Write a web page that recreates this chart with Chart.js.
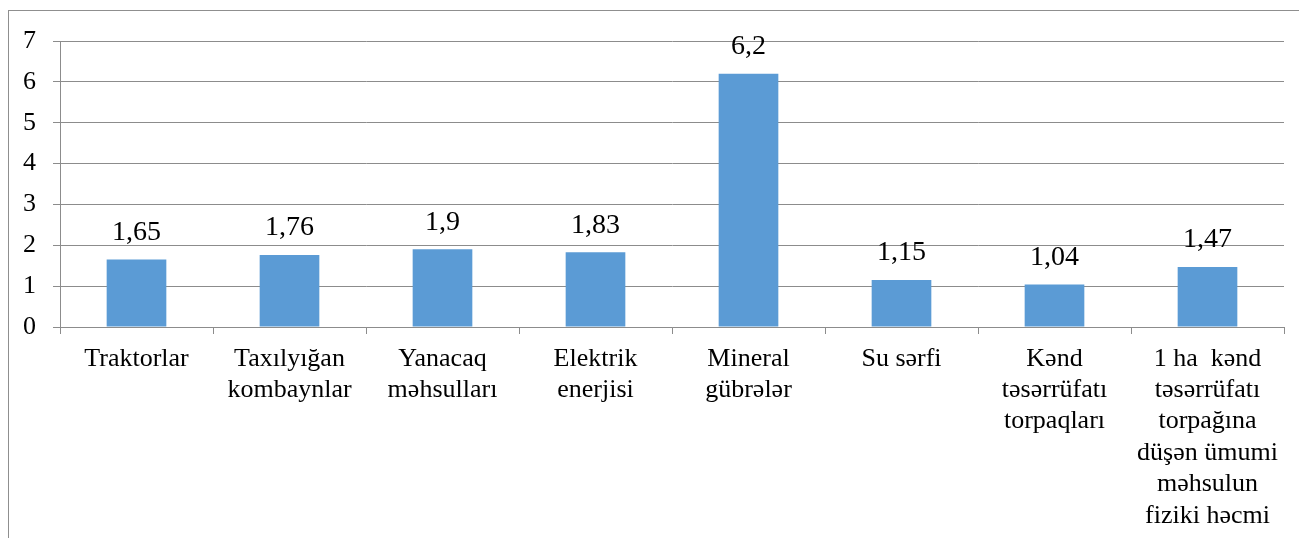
<!DOCTYPE html>
<html>
<head>
<meta charset="utf-8">
<script src="https://cdn.jsdelivr.net/npm/chart.js@4/dist/chart.umd.min.js"></script>
<style>
  html, body { margin: 0; padding: 0; background: #fff; overflow: hidden; }
  #wrap { position: relative; width: 1299px; height: 538px; }
  #frame {
    position: absolute; left: 8px; top: 10px; right: -2px; bottom: -2px;
    border-left: 1px solid #8f8f8f; border-top: 1px solid #8f8f8f;
    pointer-events: none;
  }
  canvas { position: absolute; left: 0; top: 0; }
</style>
</head>
<body>
<div id="wrap">
  <canvas id="chart" width="1299" height="538"></canvas>
  <div id="frame"></div>
</div>
<script>
const categories = [
  "Traktorlar",
  ["Taxılyığan", "kombaynlar"],
  ["Yanacaq", "məhsulları"],
  ["Elektrik", "enerjisi"],
  ["Mineral", "gübrələr"],
  "Su sərfi",
  ["Kənd", "təsərrüfatı", "torpaqları"],
  ["1 ha  kənd", "təsərrüfatı", "torpağına", "düşən ümumi", "məhsulun", "fiziki həcmi"]
];
const values = [1.65, 1.76, 1.9, 1.83, 6.2, 1.15, 1.04, 1.47];
const yTicks = [0, 1, 2, 3, 4, 5, 6, 7];

const serif = "'Liberation Serif', 'Times New Roman', serif";
const gridGray = "#8c8c8c";

// values above the bars, comma as decimal separator
const valueLabels = {
  id: "valueLabels",
  afterDatasetsDraw(chart) {
    const ctx = chart.ctx;
    const meta = chart.getDatasetMeta(0);
    ctx.save();
    ctx.font = "28px " + serif;
    ctx.fillStyle = "#000";
    ctx.textAlign = "center";
    ctx.textBaseline = "middle";
    meta.data.forEach((bar, i) => {
      const txt = String(values[i]).replace(".", ",");
      ctx.fillText(txt, bar.x, bar.y - 27);
    });
    ctx.restore();
  }
};

new Chart(document.getElementById("chart"), {
  type: "bar",
  data: {
    labels: categories,
    datasets: [{
      data: values,
      backgroundColor: "#5B9BD5",
      borderWidth: 0,
      categoryPercentage: 1,
      barPercentage: 0.39
    }]
  },
  options: {
    responsive: false,
    devicePixelRatio: 1,
    animation: false,
    layout: { padding: { top: 41, right: 15, left: 0, bottom: 0 } },
    plugins: {
      legend: { display: false },
      tooltip: { enabled: false }
    },
    scales: {
      x: {
        afterFit(scale) { scale.height = 211; },
        grid: {
          offset: true,
          drawOnChartArea: false,
          drawTicks: true,
          tickLength: 7,
          color: gridGray
        },
        border: { display: true, color: gridGray },
        ticks: {
          color: "#000",
          font: { family: serif, size: 26, lineHeight: 1.21 },
          padding: 9,
          maxRotation: 0,
          autoSkip: false
        }
      },
      y: {
        min: 0,
        max: 7,
        afterFit(scale) { scale.width = 60; },
        afterBuildTicks(scale) { scale.ticks = yTicks.map(v => ({ value: v })); },
        grid: { color: gridGray, tickLength: 7 },
        border: { display: true, color: gridGray },
        ticks: {
          color: "#000",
          font: { family: serif, size: 26 },
          padding: 17
        }
      }
    }
  },
  plugins: [valueLabels]
});
</script>
</body>
</html>
